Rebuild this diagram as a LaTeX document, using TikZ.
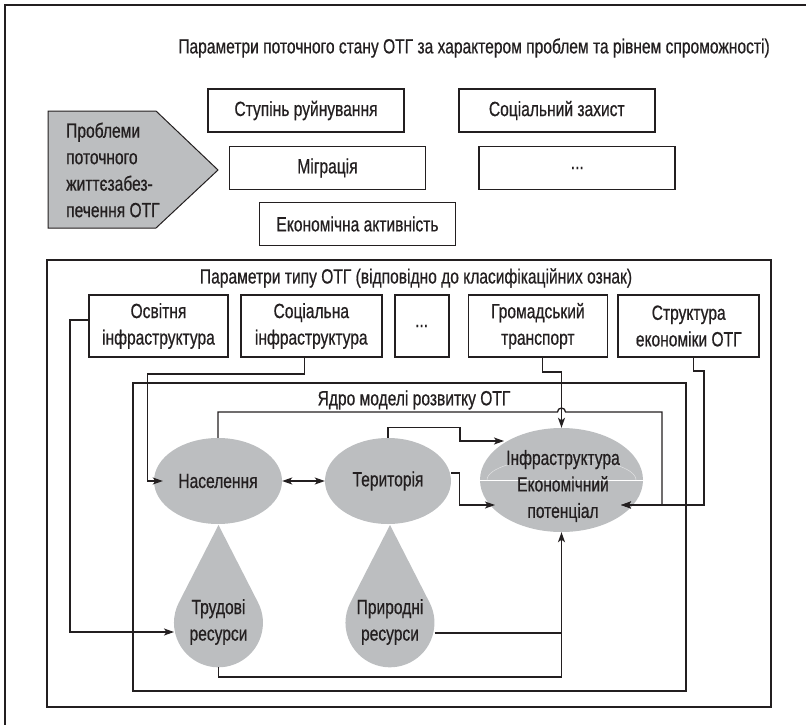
\documentclass[tikz,border=0pt]{standalone}
\usepackage{fontspec}
\setmainfont{Liberation Sans}[FakeStretch=0.76, FakeBold=0.6]
\usepackage{tikz}
\usetikzlibrary{arrows.meta}
\usetikzlibrary{positioning}
\usetikzlibrary{shapes.geometric}
\definecolor{ink}{HTML}{231F20}
\definecolor{blobgray}{HTML}{BCBEC0}
\newcommand{\diagfont}{\fontsize{20.5pt}{26.5pt}\selectfont}

\begin{document}
\begin{tikzpicture}[x=1pt, y=-1pt,
    every node/.style={font=\diagfont, text=ink, inner sep=0pt},
    frame/.style={draw=ink, line width=1.8pt},
    box/.style={draw=ink, line width=1.8pt, fill=white, minimum width=196pt, minimum height=43pt},
    pbox/.style={draw=ink, line width=1.8pt, fill=white, minimum width=139pt, minimum height=62pt, align=center},
    blob/.style={ellipse, fill=blobgray},
    conn/.style={draw=ink, line width=1.3pt},
    >={Stealth[length=10pt, width=7pt, inset=2.5pt]}]
  \useasboundingbox (0,0) rectangle (806,725);
  % outer frame, cut off by the page
  \draw[frame] (806,5) -- (5,5) -- (5,725);

  % current state of the community
  \node (cur) at (474,48) {Параметри поточного стану ОТГ за характером проблем та рівнем спроможності)};
  \fill[blobgray, draw=ink, line width=1pt] (48,111) -- (156,111) -- (218,170) -- (156,228) -- (48,228) -- cycle;
  \node[anchor=west, align=left] (prob) at (66,170) {Проблеми\\поточного\\життєзабез-\\печення ОТГ};
  \node[box] (stup) at (306,110.5) {Ступінь руйнування};
  \node[box, right=53pt of stup] (zah) {Соціальний захист};
  \node[box] (mig) at (327.5,168) {Міграція};
  \node[box, right=52pt of mig] (dots1) {...};
  \node[box] (ekon) at (357.5,224) {Економічна активність};

  % type of the community
  \draw[frame] (47,260) rectangle (771,707);
  \node (typ) at (416,278) {Параметри типу ОТГ (відповідно до класифікаційних ознак)};
  \node[pbox] (osv) at (158.5,326) {Освітня\\інфраструктура};
  \node[pbox, minimum width=141pt, right=11pt of osv] (soc) {Соціальна\\інфраструктура};
  \node[pbox, minimum width=54pt, right=11pt of soc] (dots2) {...};
  \node[pbox, right=18pt of dots2] (grom) {Громадський\\транспорт};
  \node[pbox, minimum width=141pt, right=9pt of grom] (strukt) {Структура\\економіки ОТГ};

  % core of the model
  \draw[frame] (133,383) rectangle (686,691);
  \node (core) at (414,400) {Ядро моделі розвитку ОТГ};
  \node[blob, minimum width=128pt, minimum height=86pt] (nas) at (218,481) {};
  \node[blob, minimum width=126pt, minimum height=86pt] (ter) at (388,481) {};
  \node[blob, minimum width=163pt, minimum height=104pt] (inf) at (561.5,480) {};
  \draw[white, line width=0.6pt] (inf.west) -- (inf.east);
  \draw[white!55!blobgray, line width=0.5pt] (487,480) arc[start angle=180, end angle=360, x radius=74.5, y radius=22];
  \node (nas-t) at (nas) {Населення};
  \node (ter-t) at (ter) {Територія};
  \node[align=center] (inf-t) at (563,486) {Інфраструктура\\Економічний\\потенціал};

  \foreach \cx/\n in {218.5/trud, 390/prir} {
    \fill[blobgray] (\cx,525) -- (\cx+39.5,602.4) arc[start angle=-27.3, end angle=207.3, radius=44.5] -- cycle;
    \coordinate (\n-w) at (\cx-44.5,632);
    \coordinate (\n-e) at (\cx+44.5,633);
    \coordinate (\n-s) at (\cx,667);
  }
  \node[align=center] (trud) at (218.5,622) {Трудові\\ресурси};
  \node[align=center] (prir) at (390,622) {Природні\\ресурси};

  % connectors
  \coordinate (inf-tl) at (504,441);
  \coordinate (inf-bl) at (495,505);
  \coordinate (inf-r) at (621,505);
  \coordinate (hop) at (561.5,412);
  \draw[conn,->] ([yshift=6pt]osv.west) -- ++(-18,0) |- (trud-w);
  \draw[conn,->] ([xshift=-6.5pt]soc.south) -- ++(0,16) -| ([xshift=-6pt]nas.west) -- ([xshift=9pt]nas.west);
  \draw[conn,->] ([xshift=4.5pt]grom.south) -- ++(0,14) -| (inf.north);
  \draw[conn,->] ([xshift=4.5pt]strukt.south) -- ++(0,13) -| ([xshift=83pt]inf-r) -- (inf-r);
  \draw[conn,->] (nas.north) |- ([xshift=-4pt]hop) arc[start angle=180, end angle=360, radius=4] -| ([xshift=41pt]inf-r) -- (inf-r);
  \draw[conn,->] (ter.north) -- ++(0,-10) -- ++(72,0) |- (inf-tl);
  \draw[conn,->] ([yshift=8pt]ter.east) -- ++(8,0) |- (inf-bl);
  \draw[conn,<->] (nas.east) -- (ter.west);
  \draw[conn,->] (prir-e) -| (inf.south);
  \draw[conn] (trud-s) -- ++(0,10) -| (inf.south |- prir-e);
\end{tikzpicture}
\end{document}
